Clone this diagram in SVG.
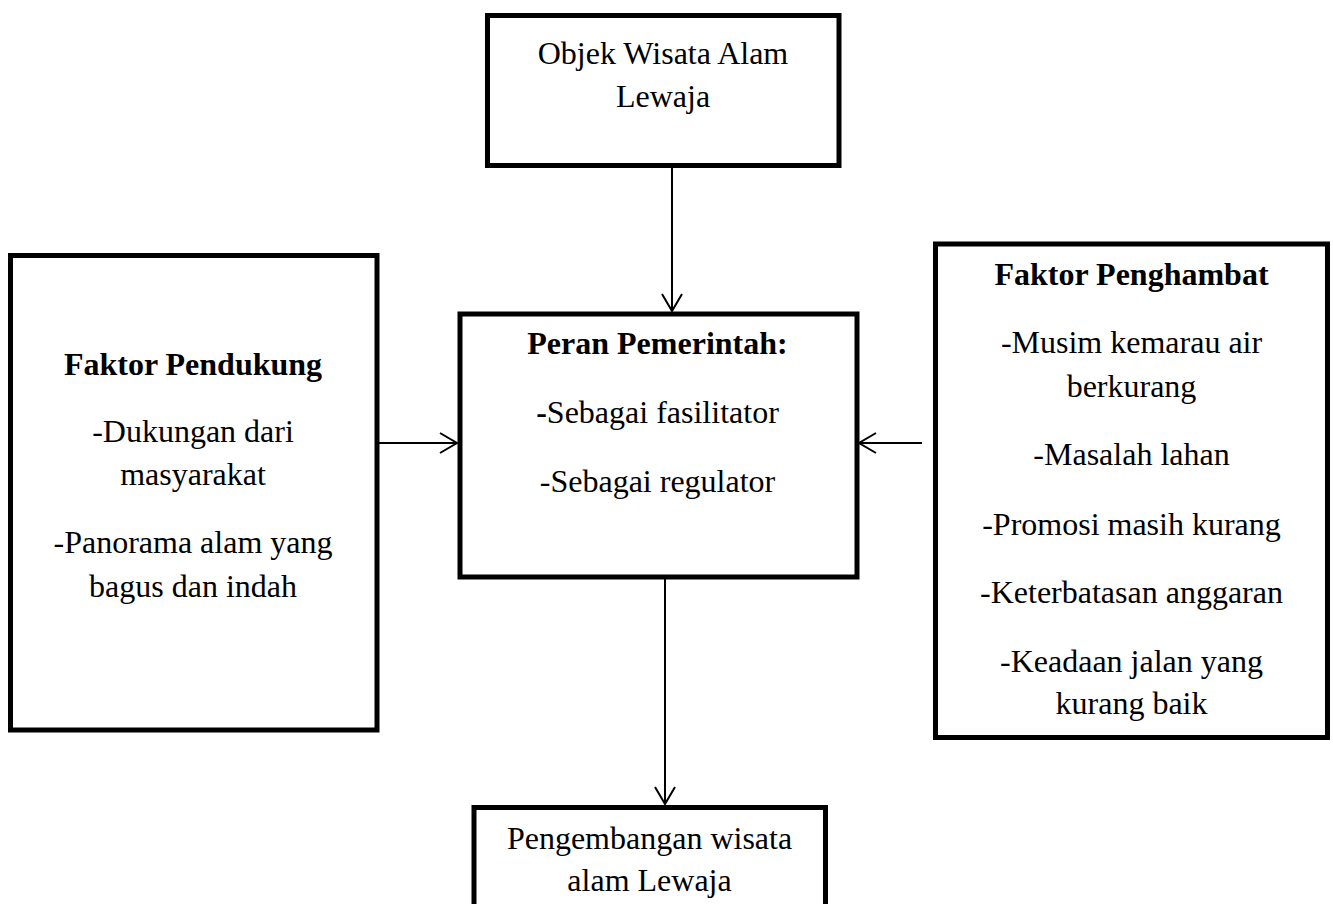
<svg xmlns="http://www.w3.org/2000/svg" width="1333" height="904" viewBox="0 0 1333 904">
<style>
.box{fill:#fff;stroke:#000;stroke-width:5}
.t{font-family:"Liberation Serif","Times New Roman",serif;font-size:32px;fill:#000;text-anchor:middle}
.b{font-weight:bold}
.c{stroke:#000;stroke-width:2;fill:none}
</style>
<defs>
<marker id="arr" markerUnits="userSpaceOnUse" viewBox="0 0 20 22" markerWidth="20" markerHeight="22" refX="18" refY="11" orient="auto">
<path d="M1,1 L18,11 L1,21" fill="none" stroke="#000" stroke-width="2"/>
</marker>
</defs>
<rect width="1333" height="904" fill="#fff"/>
<g id="connectors">
<line class="c" x1="672" y1="167" x2="672" y2="311" marker-end="url(#arr)"/>
<line class="c" x1="377" y1="443" x2="457" y2="443" marker-end="url(#arr)"/>
<line class="c" x1="922" y1="443" x2="859" y2="443" marker-end="url(#arr)"/>
<line class="c" x1="665" y1="579" x2="665" y2="804" marker-end="url(#arr)"/>
</g>
<g id="objek">
<rect class="box" x="487.5" y="15.5" width="351.5" height="150"/>
<text class="t" x="663" y="64">Objek Wisata Alam</text>
<text class="t" x="663" y="107">Lewaja</text>
</g>
<g id="peran">
<rect class="box" x="460" y="314" width="397" height="263"/>
<text class="t b" x="657.5" y="354">Peran Pemerintah:</text>
<text class="t" x="657.5" y="423"><tspan class="b">-</tspan>Sebagai fasilitator</text>
<text class="t" x="657.5" y="492">-Sebagai regulator</text>
</g>
<g id="pendukung">
<rect class="box" x="10.5" y="255.5" width="366.5" height="474.5"/>
<text class="t b" x="193" y="375">Faktor Pendukung</text>
<text class="t" x="193" y="442">-Dukungan dari</text>
<text class="t" x="193" y="485">masyarakat</text>
<text class="t" x="193" y="553">-Panorama alam yang</text>
<text class="t" x="193" y="597">bagus dan indah</text>
</g>
<g id="penghambat">
<rect class="box" x="935.5" y="244" width="392" height="493.5"/>
<text class="t b" x="1131.5" y="285">Faktor Penghambat</text>
<text class="t" x="1131.5" y="353">-Musim kemarau air</text>
<text class="t" x="1131.5" y="397">berkurang</text>
<text class="t" x="1131.5" y="465">-Masalah lahan</text>
<text class="t" x="1131.5" y="535">-Promosi masih kurang</text>
<text class="t" x="1131.5" y="603">-Keterbatasan anggaran</text>
<text class="t" x="1131.5" y="672">-Keadaan jalan yang</text>
<text class="t" x="1131.5" y="714">kurang baik</text>
</g>
<g id="pengembangan">
<rect class="box" x="474" y="807.5" width="351.5" height="110"/>
<text class="t" x="649.5" y="849">Pengembangan wisata</text>
<text class="t" x="649.5" y="891">alam Lewaja</text>
</g>
</svg>
